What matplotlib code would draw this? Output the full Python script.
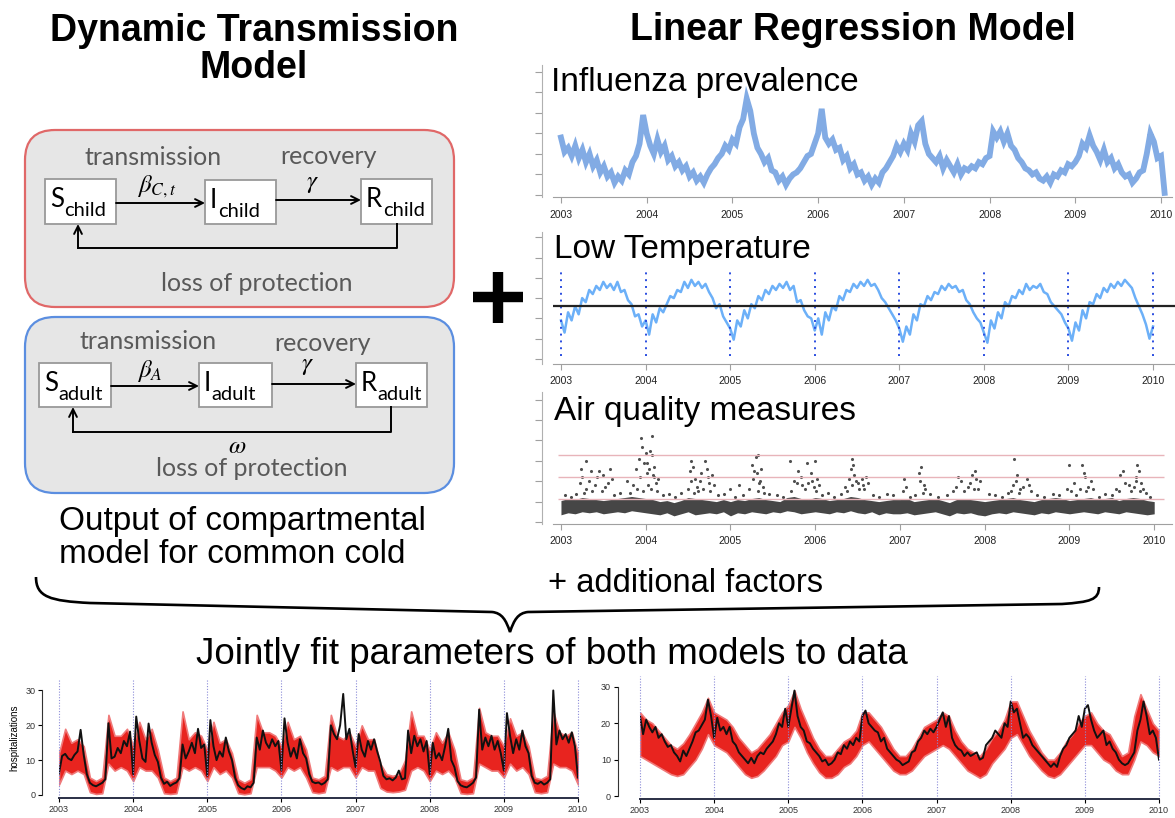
import numpy as np
import matplotlib
matplotlib.use('Agg')
import matplotlib.pyplot as plt
from matplotlib.patches import FancyBboxPatch, Rectangle, PathPatch
from matplotlib.path import Path

plt.rcParams['font.family'] = ['Liberation Sans', 'DejaVu Sans']

# ---------------- data ----------------
years = [2003, 2004, 2005, 2006, 2007, 2008, 2009, 2010]
year_labels = ['2003', '2004', '2005', '2006', '2007', '2008', '2009', '2010']

# influenza prevalence, twice a month from Jan 2003
flu = [2.8, 2.1, 2.3, 1.9, 2.4, 1.8, 2.2, 1.6, 2.0, 1.4, 1.7, 1.1, 1.4, 0.9, 1.1, 0.6, 0.9, 0.7, 1.2, 1.0, 1.6, 1.9, 2.5, 3.9,
       3.0, 2.4, 2.0, 2.7, 2.1, 2.4, 1.7, 1.9, 1.4, 1.6, 1.2, 1.4, 0.9, 1.1, 0.7, 0.9, 0.6, 1.0, 1.3, 1.5, 1.8, 2.0, 2.4, 2.2,
       2.7, 2.5, 3.3, 3.7, 4.7, 4.1, 3.0, 2.3, 2.0, 1.6, 1.8, 1.2, 1.1, 0.7, 0.9, 0.5, 0.8, 1.0, 1.1, 1.3, 1.6, 1.9, 2.0, 2.5,
       3.0, 4.2, 2.8, 2.5, 2.7, 2.2, 2.3, 1.7, 1.9, 1.3, 1.5, 1.0, 1.1, 0.7, 0.9, 0.5, 0.8, 0.6, 1.1, 1.3, 1.6, 1.9, 2.4, 2.1,
       2.5, 2.2, 3.0, 2.6, 3.4, 3.6, 2.5, 2.0, 1.8, 1.6, 1.9, 1.3, 1.7, 1.4, 1.1, 1.5, 1.0, 1.3, 1.2, 1.4, 1.3, 1.6, 1.5, 1.8,
       1.9, 3.1, 2.8, 3.1, 2.6, 3.0, 2.4, 2.2, 1.8, 1.6, 1.3, 1.2, 1.0, 1.1, 0.8, 0.7, 0.9, 0.6, 1.0, 0.9, 1.2, 1.1, 1.5, 1.4,
       1.6, 1.9, 2.5, 2.3, 2.9, 2.4, 2.1, 1.7, 2.2, 1.6, 1.8, 1.3, 1.5, 1.1, 0.9, 1.0, 0.6, 0.8, 1.1, 1.2, 2.0, 3.0, 2.6, 1.8,
       1.9, 0.1]

# low temperature, twice a month
temp = [1.9, 1.3, 2.3, 1.9, 2.6, 2.2, 3.0, 2.8, 3.4, 3.2, 3.6, 3.4, 3.8, 3.5, 3.7, 3.4, 3.8, 3.3, 3.4, 2.9, 2.7, 2.1, 2.2, 1.6,
        1.9, 1.2, 2.2, 1.8, 2.5, 2.3, 2.7, 3.1, 3.0, 3.4, 3.3, 3.8, 3.5, 3.9, 3.6, 3.8, 3.5, 3.7, 3.3, 3.0, 2.5, 2.7, 2.1, 1.8,
        1.5, 0.95, 1.9, 1.6, 2.4, 2.0, 2.7, 2.5, 3.1, 2.9, 3.4, 3.2, 3.6, 3.4, 3.7, 3.5, 3.8, 3.4, 3.6, 2.8, 2.9, 2.4, 2.1, 2.0,
        1.4, 2.0, 1.2, 2.3, 1.9, 2.6, 2.4, 3.1, 2.9, 3.4, 3.3, 3.7, 3.5, 3.8, 3.6, 3.9, 3.6, 3.7, 3.4, 3.0, 2.8, 2.5, 2.2, 1.9,
        1.5, 0.85, 1.6, 1.2, 2.2, 1.9, 2.7, 2.6, 3.1, 2.9, 3.3, 3.2, 3.6, 3.4, 3.7, 3.5, 3.6, 3.3, 3.4, 2.9, 2.7, 2.3, 2.0, 1.8,
        1.3, 0.8, 1.9, 1.5, 2.3, 2.0, 2.8, 2.6, 3.1, 3.0, 3.4, 3.2, 3.7, 3.4, 3.6, 3.5, 3.7, 3.3, 3.2, 2.8, 2.6, 2.4, 2.2, 1.8,
        1.5, 0.9, 1.8, 1.4, 2.4, 2.0, 2.8, 2.7, 3.2, 3.0, 3.5, 3.3, 3.7, 3.5, 3.8, 3.6, 3.9, 3.7, 3.5, 3.0, 2.6, 2.2, 1.7, 1.0,
        1.6]
temp_ref = 2.6

# air quality: monthly envelope of the dense cloud + single high readings
air_lo = [0.35, 0.45, 0.4, 0.5, 0.45, 0.5, 0.4, 0.45, 0.5, 0.45, 0.55, 0.5,
          0.45, 0.4, 0.35, 0.45, 0.3, 0.4, 0.5, 0.35, 0.4, 0.45, 0.4, 0.5,
          0.3, 0.45, 0.4, 0.5, 0.45, 0.4, 0.5, 0.45, 0.55, 0.5, 0.4, 0.45,
          0.5, 0.45, 0.4, 0.5, 0.45, 0.55, 0.45, 0.4, 0.5, 0.35, 0.45, 0.4,
          0.4, 0.45, 0.35, 0.4, 0.45, 0.5, 0.4, 0.3, 0.45, 0.4, 0.45, 0.35,
          0.3, 0.4, 0.45, 0.4, 0.5, 0.45, 0.4, 0.35, 0.45, 0.4, 0.5, 0.45,
          0.4, 0.45, 0.5, 0.45, 0.4, 0.5, 0.45, 0.4, 0.5, 0.45, 0.4, 0.35,
          0.4]
air_hi = [1.05, 1.15, 1.1, 1.2, 1.15, 1.1, 1.05, 1.1, 1.15, 1.2, 1.25, 1.2,
          1.15, 1.1, 1.0, 1.05, 0.95, 1.05, 1.2, 1.15, 1.1, 1.05, 1.0, 1.1,
          1.0, 1.1, 1.05, 1.15, 1.2, 1.1, 1.05, 1.0, 1.2, 1.25, 1.15, 1.1,
          1.2, 1.15, 1.05, 1.1, 1.15, 1.25, 1.2, 1.1, 1.05, 1.0, 1.05, 1.1,
          1.1, 1.15, 1.0, 1.05, 1.1, 1.15, 1.05, 0.95, 1.1, 1.15, 1.1, 1.05,
          1.0, 1.05, 1.1, 1.15, 1.2, 1.1, 1.05, 1.0, 1.1, 1.15, 1.2, 1.15,
          1.05, 1.1, 1.15, 1.2, 1.1, 1.15, 1.2, 1.05, 1.15, 1.2, 1.15, 1.05,
          1.0]
air_out_x = [2003.22, 2003.25, 2003.3, 2003.3, 2003.35, 2003.4, 2003.45, 2003.48, 2003.5, 2003.55, 2003.6,
             2003.78, 2003.85, 2003.88, 2003.9, 2003.92, 2003.95, 2003.96, 2003.98, 2004.0, 2004.02, 2004.03,
             2004.05, 2004.07, 2004.08, 2004.1, 2004.1, 2004.12,
             2004.52, 2004.54, 2004.56, 2004.58, 2004.6, 2004.62, 2004.65, 2004.7, 2004.72, 2004.75, 2004.78,
             2005.0, 2005.1, 2005.25, 2005.28, 2005.3, 2005.32, 2005.33, 2005.35, 2005.38,
             2005.7, 2005.75, 2005.8, 2005.85, 2005.88, 2005.9, 2005.95, 2005.98, 2006.0, 2006.02,
             2006.35, 2006.4, 2006.42, 2006.44, 2006.46, 2006.5, 2006.55, 2006.58, 2006.6,
             2007.05, 2007.07, 2007.22, 2007.25, 2007.28, 2007.3,
             2007.62, 2007.68, 2007.72, 2007.8, 2007.85, 2007.88, 2007.9, 2007.92,
             2008.33, 2008.35, 2008.38, 2008.42, 2008.5, 2008.52,
             2008.97, 2009.0, 2009.05, 2009.15, 2009.18, 2009.22, 2009.25,
             2009.55, 2009.6, 2009.63, 2009.7, 2009.78, 2009.8, 2009.82, 2009.83, 2009.85]
air_out_y = [1.9, 2.2, 3.0, 1.6, 2.5, 1.8, 2.5, 1.5, 2.3, 1.9, 2.1,
             2.0, 1.8, 2.6, 1.6, 3.1, 4.1, 3.7, 2.9, 3.4, 2.4, 1.8,
             3.5, 4.2, 3.3, 2.7, 2.2, 1.9,
             2.5, 3.0, 2.7, 2.1, 1.7, 1.5, 2.4, 3.0, 2.6, 1.9, 2.3,
             1.6, 1.8, 2.8, 2.5, 3.2, 1.5, 3.3, 2.0, 1.7,
             3.0, 2.0, 2.5, 1.8, 1.6, 2.9, 2.4, 1.7, 3.0, 2.1,
             1.7, 2.1, 2.6, 3.1, 2.3, 1.9, 2.1, 1.6, 2.2,
             2.1, 1.7, 2.4, 2.7, 1.8, 1.6,
             1.5, 2.2, 2.0, 1.7, 2.3, 2.5, 2.1, 1.6,
             1.8, 3.1, 2.3, 1.6, 2.1, 1.8,
             1.6, 2.8, 1.9, 2.8, 2.2, 1.7, 2.0,
             1.6, 2.3, 2.5, 1.8, 2.2, 2.8, 2.5, 1.5, 1.9]
air_out2_x = [2003.24, 2003.27, 2003.33, 2003.37, 2003.42, 2003.52, 2003.58,
              2003.82, 2003.93, 2003.97, 2004.01, 2004.04, 2004.06, 2004.09, 2004.13, 2004.15,
              2004.5, 2004.53, 2004.57, 2004.64, 2004.68, 2004.73, 2004.76, 2004.8,
              2005.22, 2005.27, 2005.31, 2005.34, 2005.36, 2005.4,
              2005.72, 2005.78, 2005.83, 2005.92, 2005.96, 2006.01, 2006.04,
              2006.37, 2006.43, 2006.45, 2006.48, 2006.52, 2006.56, 2006.62,
              2007.03, 2007.24, 2007.27,
              2007.66, 2007.75, 2007.83, 2007.87, 2007.94,
              2008.31, 2008.37, 2008.4, 2008.45, 2008.55,
              2009.02, 2009.12, 2009.17, 2009.2, 2009.28,
              2009.58, 2009.65, 2009.73, 2009.76, 2009.79, 2009.87, 2009.9]
air_out2_y = [2.6, 1.4, 2.0, 1.5, 2.2, 1.7, 2.6,
              1.4, 2.2, 1.5, 2.9, 2.6, 1.6, 2.3, 1.5, 2.1,
              1.6, 2.0, 1.4, 2.0, 1.6, 2.2, 1.5, 1.8,
              1.6, 2.1, 2.4, 1.9, 2.6, 1.4,
              1.5, 1.9, 2.2, 1.9, 2.0, 1.5, 1.8,
              1.5, 1.8, 2.8, 2.0, 1.6, 1.8, 1.9,
              1.5, 2.0, 1.4,
              1.7, 1.5, 1.9, 1.6, 2.0,
              1.5, 2.0, 1.4, 1.7, 1.5,
              1.5, 1.6, 2.4, 1.5, 1.6,
              1.5, 1.9, 1.5, 1.7, 2.0, 1.6, 1.4]
air_near_x = [2003.05, 2003.12, 2003.18, 2003.62, 2003.7, 2004.2, 2004.28, 2004.35, 2004.42, 2004.85, 2004.92,
              2005.05, 2005.15, 2005.45, 2005.55, 2005.62, 2006.08, 2006.15, 2006.22, 2006.3, 2006.68, 2006.75,
              2006.85, 2006.92, 2007.12, 2007.18, 2007.35, 2007.45, 2007.55, 2008.05, 2008.12, 2008.2, 2008.27,
              2008.62, 2008.7, 2008.8, 2008.88, 2009.08, 2009.35, 2009.42, 2009.5, 2009.95]
air_near_y = [1.3, 1.25, 1.35, 1.3, 1.4, 1.3, 1.35, 1.25, 1.4, 1.3, 1.35,
              1.25, 1.3, 1.35, 1.3, 1.25, 1.3, 1.4, 1.25, 1.35, 1.3, 1.25,
              1.35, 1.3, 1.25, 1.3, 1.35, 1.25, 1.3, 1.35, 1.3, 1.25, 1.4,
              1.3, 1.25, 1.35, 1.3, 1.3, 1.25, 1.35, 1.3, 1.25]
air_levels = [1.15, 2.21, 3.28]

# hospitalizations, observed (twice a month) and model band (monthly)
hosp_left = [6.2, 11.2, 11.8, 10.5, 10.0, 11.5, 12.5, 18.7, 11.5, 6.0, 3.5, 2.8, 2.5, 3.0, 3.5, 4.5, 20.6, 10.5, 11.0, 13.5, 12.0, 15.5, 14.0, 18.2,
             6.0, 22.5, 15.5, 10.5, 9.5, 20.5, 15.0, 11.5, 9.5, 5.0, 3.2, 3.8, 2.6, 3.2, 3.6, 4.8, 14.5, 10.5, 12.5, 15.0, 12.0, 19.0, 13.5, 14.5,
             5.5, 21.5, 14.0, 10.0, 12.5, 11.0, 16.5, 12.5, 10.0, 5.0, 2.8, 2.0, 1.6, 2.5, 2.2, 3.5, 16.5, 13.0, 18.5, 15.0, 13.5, 16.0, 14.0, 15.5,
             7.0, 22.0, 15.0, 11.0, 13.5, 10.5, 16.0, 12.0, 10.5, 6.0, 3.8, 3.4, 3.6, 3.0, 3.5, 4.5, 20.0, 17.5, 16.0, 20.0, 29.0, 16.0, 19.0, 13.0,
             8.0, 17.5, 13.0, 11.0, 15.5, 13.0, 16.0, 12.5, 9.5, 5.5, 4.5, 4.8, 4.2, 5.0, 7.0, 4.5, 4.8, 18.5, 12.0, 17.0, 14.0, 16.0, 12.5, 15.5,
             6.0, 15.0, 10.5, 12.0, 10.0, 14.0, 19.0, 10.0, 8.0, 4.0, 2.8, 2.4, 2.2, 2.8, 3.5, 5.0, 24.5, 13.0, 16.5, 14.0, 17.0, 13.0, 15.5, 12.0,
             7.0, 23.5, 17.0, 12.0, 16.0, 13.0, 18.5, 14.0, 12.0, 5.5, 3.5, 3.2, 3.8, 3.0, 3.5, 4.5, 30.0, 14.5, 18.5, 16.0, 17.5, 15.0, 18.0, 14.0,
             5.0]
band_left_lo = [3, 7, 6, 7, 6, 0.8, 0.3, 0.5, 9, 7, 8, 7,
                4, 8, 7, 7, 5, 0.5, 0.3, 0.5, 8, 7, 8, 7,
                4, 8, 6, 7, 5, 0.5, 0.2, 0.5, 8, 8, 8, 7,
                5, 8, 7, 8, 5, 0.8, 0.5, 0.8, 8, 7, 8, 8,
                5, 8, 7, 7, 2, 1.0, 0.8, 1.0, 1.5, 7, 8, 7,
                4, 7, 6, 7, 5, 0.5, 0.3, 0.5, 9, 8, 7, 7,
                5, 9, 7, 8, 6, 0.8, 0.5, 0.8, 9, 8, 8, 7,
                3]
band_left_hi = [12, 19, 15, 16, 14, 5, 4, 5, 23, 17, 17, 19,
                14, 21, 16, 19, 13, 5, 4, 5, 24, 16, 18, 17,
                13, 21, 15, 16, 12, 4.5, 3.5, 4.5, 23, 18, 18, 17,
                14, 21, 16, 17, 13, 5, 4.5, 5.5, 23, 17, 16, 18,
                14, 20, 16, 16, 9, 6, 5.5, 6, 10, 24, 17, 17,
                13, 18, 15, 18, 13, 4.5, 4, 5, 25, 18, 17, 17,
                14, 22, 17, 18, 14, 5, 4.5, 5.5, 24, 18, 17, 18,
                12]
hosp_right = [22, 17, 21, 19, 17.5, 19, 16, 17, 15, 13.5, 14, 12, 11, 9.5, 12.5, 11, 13, 15, 17.5, 18, 19.5, 21, 26.5, 22,
              16, 21.5, 18, 19, 17, 19, 15, 14, 12, 11, 10, 9, 10.5, 9, 11, 12, 11.5, 13, 14, 15, 17, 20, 19, 24,
              19, 24, 29, 22, 19, 18, 15, 14.5, 13, 12, 11, 9.5, 10, 8.5, 9, 10, 12, 11.5, 14, 13, 15, 14, 16, 15,
              22, 23.5, 20, 19, 18, 17.5, 15, 16, 13, 12, 11, 10, 9.5, 8.5, 9, 9.5, 12, 12.5, 15, 16, 18, 17, 18.5, 17.5,
              19, 21, 23, 19, 22, 16, 14, 13, 12.5, 11, 12, 11, 11.5, 12, 10, 10.5, 14, 15, 16, 18, 17, 16, 20, 19,
              26, 23, 24, 20, 16, 17, 16, 14, 13, 12, 11, 10, 9, 8, 9, 8, 11, 13, 14, 16, 17, 18, 22, 19,
              24, 25, 21, 18, 16, 17, 18, 14, 15, 13, 12, 10, 9, 8.5, 9, 10.5, 12, 18, 21, 26, 22, 17, 18, 16,
              10]
band_right_lo = [11, 10, 9, 8, 7, 6, 5.5, 6, 8, 10, 13, 17,
                 14, 13, 12, 10, 8, 6, 5, 5.5, 7, 9, 11, 14,
                 15, 19, 16, 12, 9, 6.5, 5, 5, 6, 8, 9, 11,
                 14, 15, 13, 11, 9, 7, 6, 6, 7, 9, 11, 12,
                 13, 14, 13, 11, 9, 7, 6, 5, 6, 9, 11, 13,
                 16, 17, 14, 11, 9, 7, 5.5, 5, 6, 8, 10, 12,
                 14, 14, 12, 10, 9, 7, 6, 6, 10, 15, 14, 12,
                 11]
band_right_hi = [23, 21, 20, 18, 16, 14, 13, 14.5, 17, 20, 23, 27,
                 23, 22, 21, 19, 16, 14, 12, 13, 15, 17, 20, 23,
                 25, 29, 24, 20, 16, 13, 11, 11, 13, 15, 16, 18,
                 23, 23, 21, 19, 16, 13, 11, 11, 13, 16, 19, 20,
                 21, 23, 22, 18, 15, 13, 12, 11, 13, 16, 18, 21,
                 26, 26, 22, 18, 15, 12, 10, 10, 12, 15, 17, 20,
                 22, 23, 20, 18, 17, 14, 11, 12, 22, 28, 24, 20,
                 18]

# ---------------- figure ----------------
W, H = 1175, 818
fig = plt.figure(figsize=(W / 100, H / 100), dpi=100)


def px_axes(x0, y0, x1, y1):
    # axes placed by pixel box (left, top, right, bottom)
    ax = fig.add_axes([x0 / W, 1 - y1 / H, (x1 - x0) / W, (y1 - y0) / H])
    ax.set_facecolor('none')
    return ax


ov = fig.add_axes([0, 0, 1, 1], zorder=-1)
ov.set_xlim(0, W)
ov.set_ylim(H, 0)
ov.axis('off')
renderer = fig.canvas.get_renderer()

# headings
ov.text(254, 41, 'Dynamic Transmission', ha='center', va='baseline', fontsize=27, fontweight='bold')
ov.text(254, 78, 'Model', ha='center', va='baseline', fontsize=27, fontweight='bold')
ov.text(853, 40, 'Linear Regression Model', ha='center', va='baseline', fontsize=27, fontweight='bold')

# compartment panels
grey_txt = '#595959'
for (px, py, pw, ph, ec) in [(25, 130, 429, 177, '#e06868'), (25, 317, 429, 176, '#5b8ee0')]:
    ov.add_patch(FancyBboxPatch((px, py), pw, ph, boxstyle='round,pad=0,rounding_size=30',
                                fc='#e6e6e6', ec=ec, lw=1.6))


def comp_box(x, y, w, h, main, sub):
    ov.add_patch(Rectangle((x, y), w, h, fc='white', ec='#999999', lw=1.3))
    t = ov.text(x + 5, y + 28, main, fontsize=18.5, family='Lato', va='baseline', ha='left')
    bb = t.get_window_extent(renderer=renderer)
    ov.text(bb.x1 + 0.5, y + 37, sub, fontsize=14.5, family='Lato', va='baseline', ha='left')


def arrow(x0, y0, x1, y1):
    ov.annotate('', xy=(x1, y1), xytext=(x0, y0),
                arrowprops=dict(arrowstyle='->', lw=1.4, color='black', shrinkA=0, shrinkB=0,
                                mutation_scale=14))


# child model
comp_box(45, 179, 71, 45, 'S', 'child')
comp_box(205, 180, 71, 44, 'I', 'child')
comp_box(361, 179, 71, 45, 'R', 'child')
arrow(116, 203, 205, 203)
arrow(276, 200, 361, 200)
ov.plot([397, 397, 78], [224, 248, 248], color='black', lw=1.4)
arrow(78, 248, 78, 224)
ov.text(153, 165, 'transmission', ha='center', va='baseline', fontsize=18, family='Lato', color=grey_txt)
ov.text(328, 164, 'recovery', ha='center', va='baseline', fontsize=18, family='Lato', color=grey_txt)
ov.text(257, 291, 'loss of protection', ha='center', va='baseline', fontsize=18, family='Lato', color=grey_txt)
ov.text(157, 192, r'$\beta_{C,t}$', ha='center', va='baseline', fontsize=18, math_fontfamily='stix')
ov.text(312, 188, r'$\gamma$', ha='center', va='baseline', fontsize=18, math_fontfamily='stix')

# adult model
comp_box(39, 363, 72, 44, 'S', 'adult')
comp_box(199, 363, 73, 44, 'I', 'adult')
comp_box(356, 363, 71, 44, 'R', 'adult')
arrow(111, 386, 199, 386)
arrow(272, 384, 356, 384)
ov.plot([391, 391, 73], [407, 432, 432], color='black', lw=1.4)
arrow(73, 432, 73, 407)
ov.text(148, 349, 'transmission', ha='center', va='baseline', fontsize=18, family='Lato', color=grey_txt)
ov.text(323, 351, 'recovery', ha='center', va='baseline', fontsize=18, family='Lato', color=grey_txt)
ov.text(252, 476, 'loss of protection', ha='center', va='baseline', fontsize=18, family='Lato', color=grey_txt)
ov.text(150, 377, r'$\beta_A$', ha='center', va='baseline', fontsize=18, math_fontfamily='stix')
ov.text(307, 370, r'$\gamma$', ha='center', va='baseline', fontsize=18, math_fontfamily='stix')
ov.text(237, 453, r'$\omega$', ha='center', va='baseline', fontsize=18, math_fontfamily='stix')

ov.text(59, 530, 'Output of compartmental', ha='left', va='baseline', fontsize=24)
ov.text(59, 563, 'model for common cold', ha='left', va='baseline', fontsize=24)

# big plus
ov.plot([473, 523], [297, 297], color='black', lw=7.5, solid_capstyle='butt')
ov.plot([498, 498], [272, 323], color='black', lw=7.5, solid_capstyle='butt')

ov.text(548, 592, '+ additional factors', ha='left', va='baseline', fontsize=23.5)

# curly brace
verts = [(36, 577), (36, 597), (50, 601), (90, 603), (492, 612),
         (502, 613), (506, 620), (510, 632), (514, 620), (518, 613), (528, 612),
         (1062, 604), (1090, 602), (1099, 600), (1099, 587)]
codes = [Path.MOVETO, Path.CURVE4, Path.CURVE4, Path.CURVE4, Path.LINETO,
         Path.CURVE4, Path.CURVE4, Path.CURVE4, Path.CURVE4, Path.CURVE4, Path.CURVE4,
         Path.LINETO, Path.CURVE4, Path.CURVE4, Path.CURVE4]
ov.add_patch(PathPatch(Path(verts, codes), fc='none', ec='black', lw=1.9))

ov.text(552, 664, 'Jointly fit parameters of both models to data', ha='center', va='baseline', fontsize=26.5)

# right-hand panel titles
ov.text(551, 91, 'Influenza prevalence', ha='left', va='baseline', fontsize=24, zorder=5)
ov.text(554, 258, 'Low Temperature', ha='left', va='baseline', fontsize=24, zorder=5)
ov.text(554, 420, 'Air quality measures', ha='left', va='baseline', fontsize=24, zorder=5)


def style_panel(ax):
    for s in ['top', 'right']:
        ax.spines[s].set_visible(False)
    ax.spines['left'].set_color('#b0b0b0')
    ax.spines['bottom'].set_color('#a0a0a0')
    ax.spines['left'].set_position(('outward', 8))
    ax.set_yticks([0, 1, 2, 3, 4, 5, 6])
    ax.set_yticklabels([])
    ax.tick_params(axis='y', length=5, color='#a0a0a0')
    ax.set_xticks(years)
    ax.set_xticklabels(year_labels)
    ax.tick_params(axis='x', length=4, color='#a0a0a0', labelsize=7.5, pad=5, labelcolor='#222222')


t_flu = 2003 + np.arange(len(flu)) / 24
t_temp = 2003 + np.arange(len(temp)) / 24
t_air = 2003 + np.arange(len(air_lo)) / 12

ax1 = px_axes(553, 65, 1172, 197)
ax1.plot(t_flu, flu, color='#74a2e2', lw=4.2, alpha=0.9, solid_joinstyle='miter')
ax1.set_xlim(2002.907, 2010.128)
ax1.set_ylim(-0.1, 6.34)
style_panel(ax1)

ax2 = px_axes(553, 232, 1175, 364)
ax2.plot(t_temp, temp, color='#6cb0f8', lw=1.8)
ax2.vlines(years, 0.13, 4.3, colors='#2a4de0', linestyles=(0, (1, 2.5)), lw=1.4)
ax2.axhline(temp_ref, color='#222222', lw=1.6)
ax2.set_xlim(2002.905, 2010.26)
ax2.set_ylim(-0.25, 6.26)
style_panel(ax2)

ax3 = px_axes(553, 392, 1172, 524)
ax3.hlines(air_levels, 2002.96, 2010.12, colors='#e8b4ba', lw=1.0)
ax3.fill_between(t_air, air_lo, air_hi, color='#464646', lw=0)
ax3.scatter(air_near_x, air_near_y, s=5, color='#4a4a4a', lw=0)
ax3.scatter(air_out_x + air_out2_x, air_out_y + air_out2_y, s=5, color='#505050', lw=0)
ax3.set_xlim(2002.906, 2010.21)
ax3.set_ylim(-0.1, 6.38)
style_panel(ax3)


def style_fit(ax, left_out):
    for s in ['top', 'right']:
        ax.spines[s].set_visible(False)
    ax.spines['left'].set_position(('outward', left_out))
    ax.spines['bottom'].set_position(('outward', 2))
    ax.spines['left'].set_bounds(0, 30)
    ax.spines['bottom'].set_bounds(2003, 2010)
    ax.spines['left'].set_color('#333333')
    ax.spines['bottom'].set_color('#2a2f45')
    ax.spines['bottom'].set_linewidth(1.4)
    ax.set_xlim(2003, 2010)
    ax.set_ylim(0, 33)
    ax.set_yticks([0, 10, 20, 30])
    ax.set_xticks(years)
    ax.set_xticklabels(year_labels)
    ax.tick_params(labelsize=6.5, length=3, pad=2, labelcolor='#333333')
    ax.vlines(years, 0, 33, colors='#8c8cd8', linestyles=(0, (1, 1.5)), lw=0.8, clip_on=False)


t_hosp = 2003 + np.arange(len(hosp_left)) / 24
t_band = 2003 + np.arange(len(band_left_lo)) / 12

ax4 = px_axes(59, 680, 578, 795)
ax4.fill_between(t_band, band_left_lo, band_left_hi, facecolor='#e8241f', edgecolor='#f07a7a', lw=1.2)
ax4.plot(t_hosp, hosp_left, color='#111111', lw=1.4)
style_fit(ax4, 12)
ax4.set_ylabel('hospitalizations', fontsize=7, labelpad=4)

ax5 = px_axes(640, 676, 1159, 796)
ax5.fill_between(t_band, band_right_lo, band_right_hi, facecolor='#e8241f', edgecolor='#f07a7a', lw=1.2)
ax5.plot(t_hosp, hosp_right, color='#111111', lw=1.4)
style_fit(ax5, 16)

fig.savefig('out.png', dpi=100)
